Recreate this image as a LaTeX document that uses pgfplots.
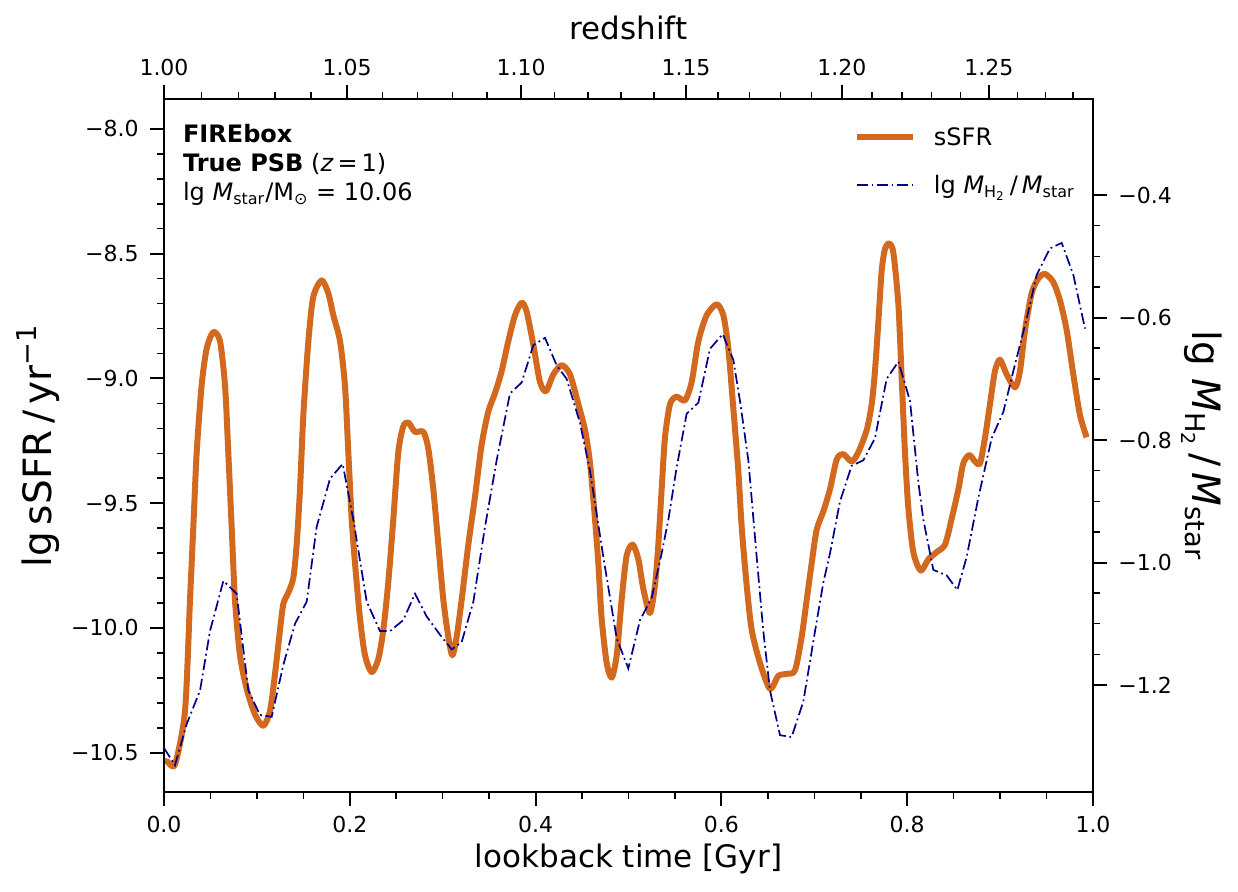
\documentclass[border=0pt]{standalone}
\usepackage{fontspec}
\setmainfont{DejaVu Sans}
\usepackage{pgfplots}
\pgfplotsset{compat=1.18}

\definecolor{ssfr}{RGB}{210,105,30}
\definecolor{htwo}{RGB}{0,0,139}

\newcommand{\tickfont}{\fontsize{11pt}{13pt}\selectfont}
\newcommand{\labfont}{\fontsize{15.5pt}{18pt}\selectfont}
\newcommand{\ylabfont}{\fontsize{19.5pt}{23pt}\selectfont}
\newcommand{\txtfont}{\fontsize{12pt}{14pt}\selectfont}

% specific star formation rate (lookback time [Gyr], lg sSFR)
\pgfplotstableread{
t s
0.0000 -10.540
0.0029 -10.533
0.0118 -10.547
0.0226 -10.333
0.0280 -9.888
0.0316 -9.592
0.0352 -9.296
0.0405 -9.029
0.0459 -8.881
0.0531 -8.814
0.0603 -8.851
0.0657 -9.029
0.0692 -9.296
0.0728 -9.592
0.0764 -9.888
0.0818 -10.110
0.0890 -10.244
0.0980 -10.347
0.1069 -10.392
0.1141 -10.333
0.1195 -10.184
0.1249 -10.007
0.1285 -9.903
0.1338 -9.859
0.1392 -9.799
0.1428 -9.666
0.1464 -9.444
0.1500 -9.147
0.1554 -8.851
0.1607 -8.673
0.1697 -8.607
0.1769 -8.659
0.1823 -8.747
0.1895 -8.851
0.1948 -9.029
0.1984 -9.296
0.2020 -9.562
0.2056 -9.740
0.2110 -9.962
0.2164 -10.110
0.2235 -10.177
0.2307 -10.125
0.2361 -10.007
0.2415 -9.814
0.2469 -9.562
0.2522 -9.296
0.2576 -9.192
0.2630 -9.177
0.2702 -9.214
0.2792 -9.214
0.2845 -9.281
0.2899 -9.444
0.2953 -9.666
0.3007 -9.888
0.3061 -10.036
0.3104 -10.110
0.3150 -10.036
0.3204 -9.888
0.3276 -9.666
0.3348 -9.473
0.3419 -9.266
0.3491 -9.133
0.3563 -9.059
0.3635 -8.970
0.3706 -8.851
0.3778 -8.747
0.3850 -8.696
0.3904 -8.733
0.3976 -8.866
0.4047 -9.014
0.4112 -9.051
0.4191 -8.984
0.4281 -8.947
0.4370 -8.984
0.4460 -9.103
0.4532 -9.207
0.4586 -9.340
0.4639 -9.562
0.4675 -9.740
0.4711 -9.962
0.4765 -10.140
0.4819 -10.199
0.4873 -10.110
0.4926 -9.888
0.4980 -9.710
0.5045 -9.666
0.5106 -9.725
0.5160 -9.844
0.5231 -9.940
0.5285 -9.829
0.5321 -9.666
0.5357 -9.444
0.5393 -9.236
0.5447 -9.103
0.5518 -9.073
0.5608 -9.088
0.5680 -9.014
0.5752 -8.851
0.5841 -8.747
0.5949 -8.703
0.6021 -8.747
0.6075 -8.881
0.6128 -9.118
0.6182 -9.370
0.6218 -9.592
0.6272 -9.829
0.6326 -10.007
0.6415 -10.140
0.6523 -10.244
0.6613 -10.192
0.6702 -10.184
0.6792 -10.170
0.6864 -10.036
0.6918 -9.888
0.6972 -9.740
0.7025 -9.607
0.7097 -9.533
0.7169 -9.444
0.7241 -9.325
0.7312 -9.303
0.7402 -9.333
0.7474 -9.296
0.7564 -9.207
0.7618 -9.103
0.7653 -8.970
0.7689 -8.777
0.7725 -8.570
0.7761 -8.481
0.7808 -8.459
0.7851 -8.496
0.7905 -8.703
0.7941 -9.001
0.7976 -9.296
0.8012 -9.518
0.8066 -9.696
0.8145 -9.770
0.8228 -9.725
0.8317 -9.696
0.8407 -9.666
0.8479 -9.562
0.8551 -9.444
0.8604 -9.340
0.8669 -9.307
0.8730 -9.333
0.8784 -9.340
0.8838 -9.236
0.8891 -9.103
0.8945 -8.970
0.8999 -8.925
0.9071 -8.984
0.9161 -9.036
0.9214 -8.970
0.9268 -8.807
0.9340 -8.658
0.9412 -8.599
0.9483 -8.581
0.9573 -8.614
0.9645 -8.688
0.9717 -8.807
0.9788 -8.984
0.9860 -9.147
0.9932 -9.236
}\ssfrtable

% molecular gas fraction (lookback time [Gyr], lg M_H2/M_star)
\pgfplotstableread{
t h
0.0000 -1.303
0.0118 -1.331
0.0244 -1.264
0.0388 -1.209
0.0495 -1.112
0.0639 -1.030
0.0782 -1.051
0.0854 -1.142
0.0908 -1.209
0.1033 -1.249
0.1159 -1.252
0.1285 -1.167
0.1410 -1.100
0.1536 -1.064
0.1643 -0.942
0.1787 -0.863
0.1923 -0.839
0.2038 -0.930
0.2182 -1.064
0.2325 -1.112
0.2433 -1.112
0.2576 -1.094
0.2702 -1.051
0.2827 -1.088
0.2971 -1.118
0.3097 -1.142
0.3204 -1.130
0.3330 -1.064
0.3455 -0.942
0.3581 -0.833
0.3724 -0.724
0.3850 -0.706
0.3976 -0.645
0.4101 -0.633
0.4227 -0.678
0.4334 -0.700
0.4478 -0.772
0.4586 -0.851
0.4729 -0.991
0.4873 -1.124
0.4998 -1.173
0.5124 -1.094
0.5249 -1.058
0.5357 -0.985
0.5429 -0.930
0.5518 -0.845
0.5626 -0.757
0.5752 -0.739
0.5877 -0.651
0.6014 -0.627
0.6128 -0.669
0.6200 -0.736
0.6290 -0.833
0.6380 -0.991
0.6451 -1.112
0.6523 -1.209
0.6631 -1.282
0.6756 -1.285
0.6882 -1.227
0.7008 -1.112
0.7097 -1.033
0.7169 -0.985
0.7277 -0.900
0.7402 -0.842
0.7528 -0.833
0.7653 -0.797
0.7779 -0.700
0.7905 -0.672
0.8030 -0.736
0.8120 -0.869
0.8174 -0.930
0.8281 -1.012
0.8425 -1.021
0.8540 -1.045
0.8640 -0.991
0.8766 -0.894
0.8909 -0.797
0.9035 -0.754
0.9143 -0.687
0.9286 -0.602
0.9394 -0.530
0.9537 -0.487
0.9663 -0.478
0.9788 -0.530
0.9914 -0.618
}\htwotable

\pgfplotsset{
  common/.style={
    anchor=south west, at={(0pt,0pt)},
    scale only axis, width=464.5pt, height=346.5pt,
    xmin=0, xmax=1,
    axis line style={line width=1pt, black},
    tick align=outside,
    major tick length=7pt, minor tick length=3.5pt,
    every tick/.style={black},
    every major tick/.append style={line width=1pt},
    every minor tick/.append style={line width=0.75pt},
    xticklabel style={font=\tickfont, inner sep=0pt},
    yticklabel style={font=\tickfont, inner sep=0pt},
  },
}

\begin{document}
\begin{tikzpicture}
% left axis: sSFR against lookback time
\begin{axis}[
  common,
  ymin=-10.6575, ymax=-7.880,
  xtick pos=left, ytick pos=left,
  xtick={0,0.2,0.4,0.6,0.8,1.0},
  xticklabels={0.0,0.2,0.4,0.6,0.8,1.0},
  minor x tick num=3,
  ytick={-10.5,-10,-9.5,-9,-8.5,-8},
  yticklabels={−10.5,−10.0,−9.5,−9.0,−8.5,−8.0},
  minor y tick num=4,
  xticklabel style={anchor=north},
  yticklabel style={anchor=east},
  xticklabel shift=5pt,
  yticklabel shift=5.5pt,
  xlabel={lookback time [Gyr]},
  every axis x label/.style={at={(axis description cs:0.5,-0.1092)}, anchor=base, font=\labfont},
  ylabel={lg\,sSFR\,/\,yr\textsuperscript{−1}},
  every axis y label/.style={at={(axis description cs:-0.1206,0.5)}, anchor=base, rotate=90, font=\ylabfont},
]
\addplot[ssfr, line width=3pt, line join=round, smooth, tension=0.45] table[x=t, y=s] {\ssfrtable};
\node[anchor=base west, inner sep=0pt, font=\txtfont] at (axis description cs:0.0201,0.9375) {\textbf{FIREbox}};
\node[anchor=base west, inner sep=0pt, font=\txtfont] at (axis description cs:0.0201,0.8951) {\textbf{True PSB} (\textit{z}\,=\,1)};
\node[anchor=base west, inner sep=0pt, font=\txtfont] at (axis description cs:0.0201,0.8532) {lg \textit{M}\textsubscript{star}/M\textsubscript{⊙} = 10.06};
\end{axis}

% right axis: molecular gas fraction, top axis: redshift
\begin{axis}[
  common,
  ymin=-1.3748, ymax=-0.243,
  xtick pos=right, xticklabel pos=right,
  ytick pos=right, yticklabel pos=right,
  xtick={0,0.1970,0.3843,0.5619,0.7298,0.8880},
  xticklabels={1.00,1.05,1.10,1.15,1.20,1.25},
  minor xtick={0.0402,0.0800,0.1194,0.1584,0.2352,0.2731,0.3105,0.3476,0.4206,0.4565,0.4920,0.5272,0.5962,0.6302,0.6638,0.6970,0.7622,0.7942,0.8259,0.8572,0.9185,0.9486,0.9783},
  ytick={-1.2,-1.0,-0.8,-0.6,-0.4},
  yticklabels={−1.2,−1.0,−0.8,−0.6,−0.4},
  minor y tick num=3,
  xticklabel style={anchor=south},
  yticklabel style={anchor=west},
  xticklabel shift=4.5pt,
  yticklabel shift=5.5pt,
  xlabel={redshift},
  every axis x label/.style={at={(axis description cs:0.5,1.0861)}, anchor=base, font=\labfont},
  ylabel={lg \textit{M}\textsubscript{H\textsubscript{2}}\,/\,\textit{M}\textsubscript{star}},
  every axis y label/.style={at={(axis description cs:1.1066,0.5)}, anchor=base, rotate=-90, font=\ylabfont},
  legend cell align=left,
  legend image code/.code={\draw[#1] (0pt,0pt) -- (28pt,0pt);},
  legend style={draw=none, fill=none, at={(axis description cs:0.7427,0.9672)}, anchor=north west,
    inner sep=0pt, outer sep=0pt, font=\txtfont, row sep=8.55pt, column sep=7pt,
    cells={anchor=west, text height=10pt, text depth=0.6pt, inner sep=0pt}},
]
\addlegendimage{ssfr, line width=3pt}
\addlegendentry{sSFR}
\addplot[htwo, line width=0.85pt, dash pattern=on 5.5pt off 1.8pt on 0.9pt off 1.8pt] table[x=t, y=h] {\htwotable};
\addlegendentry{lg \textit{M}\textsubscript{H\textsubscript{2}}\,/\,\textit{M}\textsubscript{star}}
\end{axis}

\pgfresetboundingbox
\path (-82pt,-49.5pt) rectangle (537pt,396pt);
\end{tikzpicture}
\end{document}
